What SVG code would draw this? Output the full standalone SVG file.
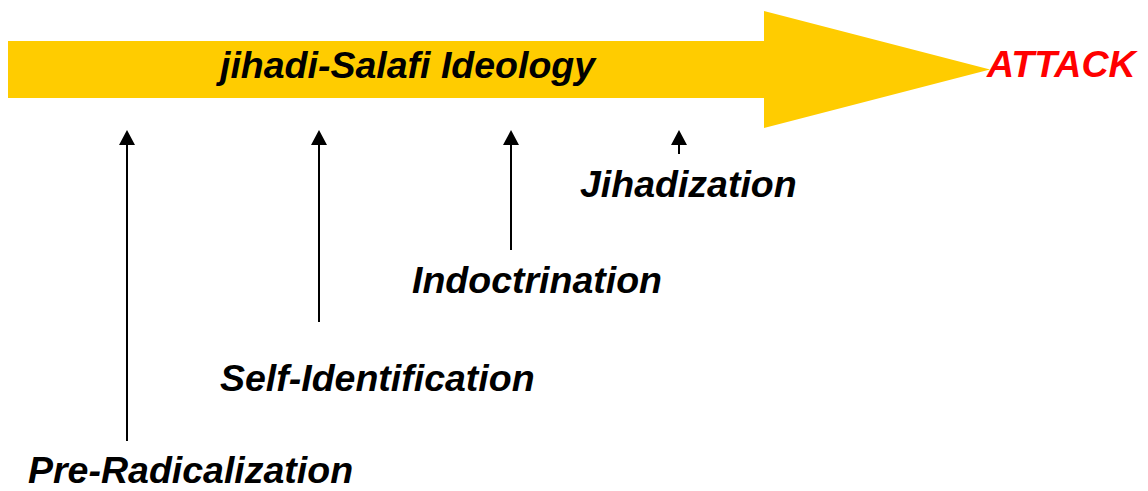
<svg xmlns="http://www.w3.org/2000/svg" width="1148" height="491" viewBox="0 0 1148 491">
<style>
.lbl{font-family:"Liberation Sans",Arial,sans-serif;font-weight:bold;font-style:italic;font-size:37.5px;fill:#000}
.atk{fill:#FF0000}
.conn line{stroke:#000;stroke-width:2}
.conn path{fill:#000}
</style>
<rect width="1148" height="491" fill="#fff"/>
<g id="ideology">
<polygon points="8,41 764,41 764,11 990,69.5 764,128 764,98 8,98" fill="#FFCC00"/>
<text class="lbl" x="220" y="78">jihadi-Salafi Ideology</text>
</g>
<g id="attack">
<text class="lbl atk" x="987" y="77">ATTACK</text>
</g>
<g id="conns" class="conn">
<path d="M119,145 L127,130 L135,145 Z"/>
<line x1="127" y1="144" x2="127" y2="441"/>
<path d="M311,145 L319,130 L327,145 Z"/>
<line x1="319" y1="144" x2="319" y2="322"/>
<path d="M503,145 L511,130 L519,145 Z"/>
<line x1="511" y1="144" x2="511" y2="250"/>
<path d="M671,145 L679,130 L687,145 Z"/>
<line x1="679" y1="144" x2="679" y2="154"/>
</g>
<g id="jihadization"><text class="lbl" x="580" y="197">Jihadization</text></g>
<g id="indoctrination"><text class="lbl" x="412" y="293">Indoctrination</text></g>
<g id="self-identification"><text class="lbl" x="220" y="391">Self-Identification</text></g>
<g id="pre-radicalization"><text class="lbl" x="28" y="483">Pre-Radicalization</text></g>
</svg>
